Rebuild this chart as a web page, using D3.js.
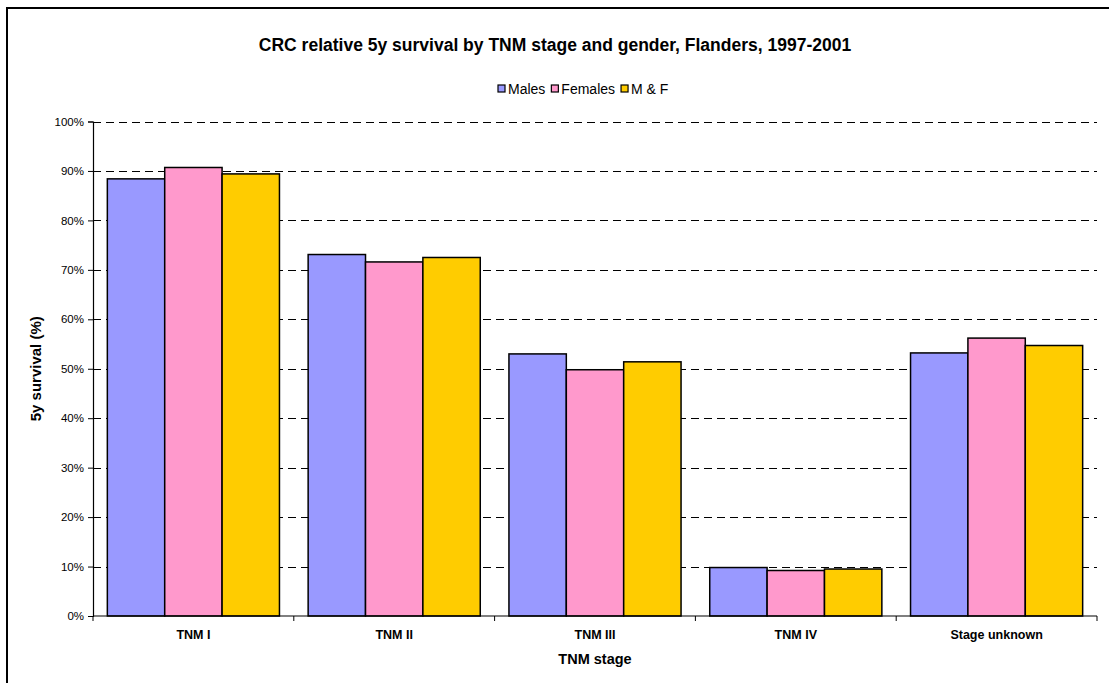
<!DOCTYPE html>
<html>
<head>
<meta charset="utf-8">
<script src="https://cdn.jsdelivr.net/npm/d3@7"></script>
<style>
  html, body { margin: 0; padding: 0; background: #fff; }
  svg { display: block; font-family: "Liberation Sans", Arial, sans-serif; }
</style>
</head>
<body>
<svg id="chart" width="1109" height="683"></svg>
<script>
// Five-year relative survival for colorectal cancer, by TNM stage
const stages = ["TNM I", "TNM II", "TNM III", "TNM IV", "Stage unknown"];
const seriesNames = ["Males", "Females", "M & F"];
const males   = [88.4, 73.1, 53.0, 9.8, 53.2];
const females = [90.7, 71.6, 49.8, 9.2, 56.2];
const both    = [89.4, 72.5, 51.4, 9.5, 54.7];
const yTicks = [0, 10, 20, 30, 40, 50, 60, 70, 80, 90, 100];
const colors = ["#9999FF", "#FF99CC", "#FFCC00"];

const series = [males, females, both];

const svg = d3.select("#chart");
const margin = { left: 93, right: 12, top: 121.5, bottom: 67 };
const W = 1109, H = 683;
const plotL = margin.left, plotR = W - margin.right;
const plotT = margin.top, plotB = H - margin.bottom;

// Outer chart frame
svg.append("rect")
  .attr("x", 7).attr("y", 8)
  .attr("width", W + 10).attr("height", H + 10)
  .attr("fill", "none").attr("stroke", "#000").attr("stroke-width", 2);

const x0 = d3.scaleBand().domain(stages).range([plotL, plotR]).paddingInner(0).paddingOuter(0);
const x1 = d3.scaleBand().domain(seriesNames).range([0, x0.bandwidth()]).paddingInner(0).paddingOuter(0.25);
const y = d3.scaleLinear().domain([0, 100]).range([plotB, plotT]);

// Dashed gridlines
svg.append("g")
  .selectAll("line")
  .data(yTicks.filter(d => d > 0))
  .join("line")
  .attr("x1", plotL).attr("x2", plotR)
  .attr("y1", d => Math.round(y(d)) + 0.5).attr("y2", d => Math.round(y(d)) + 0.5)
  .attr("stroke", "#000").attr("stroke-width", 1)
  .attr("stroke-dasharray", "8,5");

// Bars
const groups = svg.append("g")
  .selectAll("g")
  .data(stages)
  .join("g")
  .attr("transform", d => `translate(${x0(d)},0)`);

groups.selectAll("rect")
  .data((d, i) => seriesNames.map((s, j) => ({ s, j, v: series[j][i] })))
  .join("rect")
  .attr("x", d => x1(d.s))
  .attr("width", x1.bandwidth())
  .attr("y", d => y(d.v))
  .attr("height", d => y(0) - y(d.v))
  .attr("fill", d => colors[d.j])
  .attr("stroke", "#000").attr("stroke-width", 1.5);

// Y axis
const yAxis = svg.append("g")
  .attr("transform", `translate(${plotL},0)`)
  .call(d3.axisLeft(y).tickValues(yTicks).tickFormat(d => d + "%").tickSize(5).tickPadding(4));
yAxis.select(".domain").attr("stroke", "#000").attr("stroke-width", 1.2);
yAxis.selectAll(".tick line").attr("stroke", "#000");
yAxis.selectAll("text")
  .attr("font-size", 11.5).attr("fill", "#000")
  .attr("font-family", "'Liberation Sans', Arial, sans-serif");

// X axis with ticks at category boundaries
const xAxisG = svg.append("g").attr("transform", `translate(0,${plotB})`);
xAxisG.append("line")
  .attr("x1", plotL).attr("x2", plotR)
  .attr("y1", 0).attr("y2", 0)
  .attr("stroke", "#000").attr("stroke-width", 1.2);
xAxisG.selectAll("line.tk")
  .data(stages.concat(["end"]))
  .join("line")
  .attr("class", "tk")
  .attr("x1", (d, i) => i < stages.length ? x0(d) : plotR)
  .attr("x2", (d, i) => i < stages.length ? x0(d) : plotR)
  .attr("y1", 0).attr("y2", 5)
  .attr("stroke", "#000");
xAxisG.selectAll("text")
  .data(stages)
  .join("text")
  .attr("x", d => x0(d) + x0.bandwidth() / 2)
  .attr("y", 23)
  .attr("text-anchor", "middle")
  .attr("font-size", 12.5).attr("font-weight", "bold")
  .text(d => d);

// Title
svg.append("text")
  .attr("x", 555).attr("y", 51)
  .attr("text-anchor", "middle")
  .attr("font-size", 17.5).attr("font-weight", "bold")
  .text("CRC relative 5y survival by TNM stage and gender, Flanders, 1997-2001");

// Axis titles
svg.append("text")
  .attr("x", (plotL + plotR) / 2).attr("y", 664)
  .attr("text-anchor", "middle")
  .attr("font-size", 14.5).attr("font-weight", "bold")
  .text("TNM stage");

svg.append("text")
  .attr("transform", `translate(41,${(plotT + plotB) / 2}) rotate(-90)`)
  .attr("text-anchor", "middle")
  .attr("font-size", 15).attr("font-weight", "bold")
  .text("5y survival (%)");

// Legend
const legend = svg.append("g").attr("transform", "translate(0,94)");
let lx = 498;
seriesNames.forEach((name, j) => {
  legend.append("rect")
    .attr("x", lx).attr("y", -9).attr("width", 7).attr("height", 7)
    .attr("fill", colors[j]).attr("stroke", "#000").attr("stroke-width", 1.2);
  const t = legend.append("text")
    .attr("x", lx + 10).attr("y", 0)
    .attr("font-size", 14)
    .text(name);
  lx += 10 + t.node().getComputedTextLength() + 6;
});
</script>
</body>
</html>
